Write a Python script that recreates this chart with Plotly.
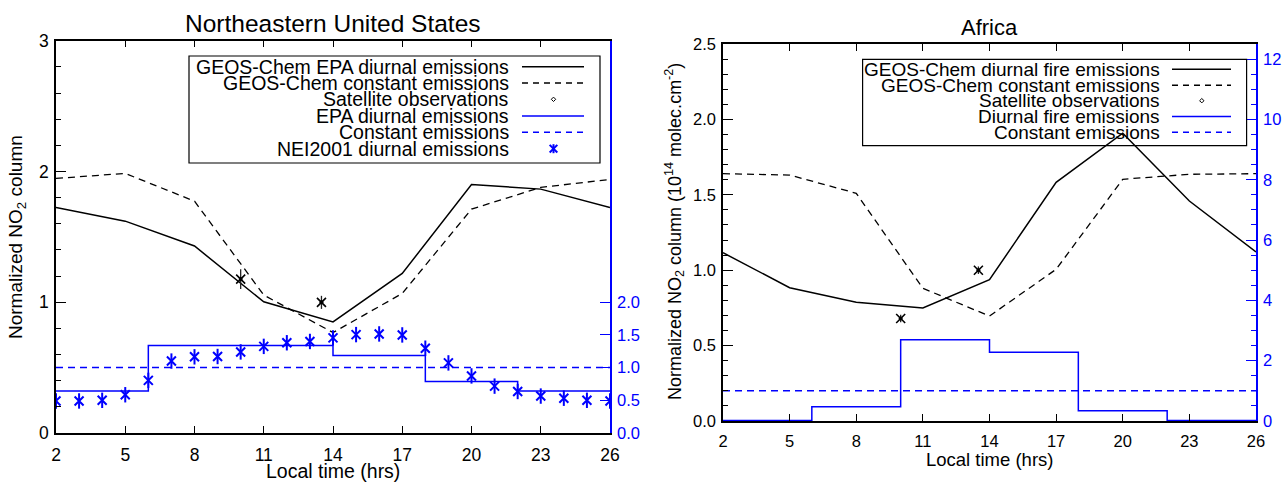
import plotly.graph_objects as go

# ---------------- data ----------------
hours3 = [2, 5, 8, 11, 14, 17, 20, 23, 26]
nei_hours = list(range(2, 27))

# Northeastern United States
ne_geos_diurnal = [1.725, 1.62, 1.43, 1.003, 0.85, 1.22, 1.90, 1.865, 1.725]
ne_geos_const = [1.947, 1.985, 1.773, 1.055, 0.768, 1.067, 1.712, 1.878, 1.939]
ne_obs_time = [10, 13.5]
ne_obs = [1.177, 0.999]
ne_obs_err = [0.076, 0.05]
ne_epa_edges = [2, 6, 14, 18, 22, 26]
ne_epa = [0.643, 1.338, 1.185, 0.787, 0.643]
ne_const = 1.0
nei = [0.49, 0.49, 0.50, 0.585, 0.805, 1.10, 1.165, 1.17, 1.24, 1.325, 1.38, 1.40,
       1.455, 1.505, 1.515, 1.50, 1.297, 1.072, 0.873, 0.717, 0.635, 0.565, 0.532,
       0.50, 0.49]

# Africa
af_geos_diurnal = [1.116, 0.884, 0.787, 0.75, 0.937, 1.583, 1.908, 1.459, 1.121]
af_geos_const = [1.64, 1.631, 1.51, 0.88, 0.696, 1.006, 1.603, 1.636, 1.64]
af_obs_time = [10, 13.5]
af_obs = [0.68, 1.0]
af_obs_err = [0.025, 0.025]
af_fire_edges = [2, 6, 10, 14, 18, 22, 26]
af_fire = [0.02, 0.47, 2.69, 2.28, 0.34, 0.02]
af_const = 1.0

x_ticks = [2, 5, 8, 11, 14, 17, 20, 23, 26]
ne_left_ticks = [0, 1, 2, 3]
ne_right_ticks = [0, 0.5, 1.0, 1.5, 2.0]
af_left_ticks = [0, 0.5, 1.0, 1.5, 2.0, 2.5]
af_right_ticks = [0, 2, 4, 6, 8, 10, 12]

ne_legend = ["GEOS-Chem EPA diurnal emissions", "GEOS-Chem constant emissions",
             "Satellite observations", "EPA diurnal emissions", "Constant emissions",
             "NEI2001 diurnal emissions"]
af_legend = ["GEOS-Chem diurnal fire emissions", "GEOS-Chem constant emissions",
             "Satellite observations", "Diurnal fire emissions", "Constant emissions"]

# ---------------- layout helpers ----------------
W, H = 1284, 482
FONT = "Liberation Sans, Arial, Helvetica, sans-serif"
BLUE = "#0000ff"


def px(x):
    return x / W


def py(y):
    return 1 - y / H


L_DOM_X = [px(56), px(610)]
L_DOM_Y = [py(433), py(40.7)]
R_DOM_X = [px(723), px(1256)]
R_DOM_Y = [py(421), py(44)]

fig = go.Figure()


def obs_traces(xs, ys, errs, xa, ya):
    fig.add_trace(go.Scatter(x=xs, y=ys, mode="markers",
                             error_y=dict(type="data", array=errs, color="#222", thickness=1.3, width=0),
                             marker=dict(symbol="x-thin-open", size=9, color="black",
                                         line=dict(color="black", width=1.6)),
                             xaxis=xa, yaxis=ya))
    fig.add_trace(go.Scatter(x=xs, y=ys, mode="markers",
                             marker=dict(symbol="circle", size=4, color="black"), xaxis=xa, yaxis=ya))


# ---------------- Left panel ----------------
fig.add_trace(go.Scatter(x=hours3, y=ne_geos_diurnal, mode="lines",
                         line=dict(color="black", width=1.5), xaxis="x", yaxis="y"))
fig.add_trace(go.Scatter(x=hours3, y=ne_geos_const, mode="lines",
                         line=dict(color="black", width=1.3, dash="7px,5px"), xaxis="x", yaxis="y"))
obs_traces(ne_obs_time, ne_obs, ne_obs_err, "x", "y")
fig.add_trace(go.Scatter(x=ne_epa_edges, y=ne_epa + [ne_epa[-1]], mode="lines", line_shape="hv",
                         line=dict(color=BLUE, width=1.5), xaxis="x", yaxis="y2"))
fig.add_trace(go.Scatter(x=[ne_epa_edges[0], ne_epa_edges[-1]], y=[ne_const, ne_const], mode="lines",
                         line=dict(color=BLUE, width=1.5, dash="7px,5px"), xaxis="x", yaxis="y2"))
fig.add_trace(go.Scatter(x=nei_hours, y=nei, mode="markers",
                         marker=dict(symbol="x-thin-open", size=9, color=BLUE,
                                     line=dict(color=BLUE, width=2)),
                         xaxis="x", yaxis="y2"))
fig.add_trace(go.Scatter(x=nei_hours, y=nei, mode="markers",
                         marker=dict(symbol="line-ns-open", size=11, color=BLUE,
                                     line=dict(color=BLUE, width=2)),
                         xaxis="x", yaxis="y2"))

# ---------------- Right panel ----------------
fig.add_trace(go.Scatter(x=hours3, y=af_geos_diurnal, mode="lines",
                         line=dict(color="black", width=1.5), xaxis="x2", yaxis="y3"))
fig.add_trace(go.Scatter(x=hours3, y=af_geos_const, mode="lines",
                         line=dict(color="black", width=1.3, dash="7px,5px"), xaxis="x2", yaxis="y3"))
obs_traces(af_obs_time, af_obs, af_obs_err, "x2", "y3")
fig.add_trace(go.Scatter(x=af_fire_edges, y=af_fire + [af_fire[-1]], mode="lines", line_shape="hv",
                         line=dict(color=BLUE, width=1.5), xaxis="x2", yaxis="y4"))
fig.add_trace(go.Scatter(x=[af_fire_edges[0], af_fire_edges[-1]], y=[af_const, af_const], mode="lines",
                         line=dict(color=BLUE, width=1.5, dash="7px,5px"), xaxis="x2", yaxis="y4"))

# ---------------- axes ----------------
xcommon = dict(range=[2, 26], tickvals=x_ticks, ticks="inside", ticklen=7, tickwidth=1.2,
               tickcolor="black", showline=True, linecolor="black", linewidth=1.5,
               mirror="ticks", showgrid=False, zeroline=False, automargin=False,
               tickfont=dict(family=FONT, size=17.5, color="black"))

fig.update_layout(
    xaxis=dict(xcommon, domain=L_DOM_X, anchor="y", ticklabelstandoff=5),
    yaxis=dict(domain=L_DOM_Y, anchor="x", range=[0, 3], tickvals=ne_left_ticks,
               ticks="inside", ticklen=10, tickwidth=1.2, tickcolor="black", automargin=False,
               showline=True, linecolor="black", linewidth=1.5, showgrid=False, zeroline=False,
               tickfont=dict(family=FONT, size=17.5, color="black"), ticklabelstandoff=2,
               minor=dict(dtick=0.2, tick0=0, ticks="inside", ticklen=5, tickcolor="black",
                          tickwidth=1.2, showgrid=False)),
    yaxis2=dict(overlaying="y", side="right", anchor="x", range=[0, 6], tickvals=ne_right_ticks,
                ticktext=["%.1f" % v for v in ne_right_ticks], automargin=False,
                ticks="inside", ticklen=10, tickwidth=1.2, tickcolor=BLUE,
                showline=True, linecolor=BLUE, linewidth=1.5, showgrid=False, zeroline=False,
                tickfont=dict(family=FONT, size=16.5, color=BLUE), ticklabelstandoff=2),
    xaxis2=dict(xcommon, domain=R_DOM_X, anchor="y3", tickfont=dict(family=FONT, size=16.5, color="black"),
                ticklabelstandoff=4),
    yaxis3=dict(domain=R_DOM_Y, anchor="x2", range=[0, 2.5], tickvals=af_left_ticks,
                ticktext=["%.1f" % v for v in af_left_ticks], automargin=False,
                ticks="inside", ticklen=10, tickwidth=1.2, tickcolor="black",
                showline=True, linecolor="black", linewidth=1.5, showgrid=False, zeroline=False,
                tickfont=dict(family=FONT, size=16.5, color="black"), ticklabelstandoff=2,
                minor=dict(dtick=0.1, tick0=0, ticks="inside", ticklen=5, tickcolor="black",
                           tickwidth=1.2, showgrid=False)),
    yaxis4=dict(overlaying="y3", side="right", anchor="x2", range=[0, 12.5], tickvals=af_right_ticks,
                ticks="inside", ticklen=10, tickwidth=1.2, tickcolor=BLUE, automargin=False,
                showline=True, linecolor=BLUE, linewidth=1.5, showgrid=False, zeroline=False,
                tickfont=dict(family=FONT, size=16.5, color=BLUE), ticklabelstandoff=2,
                minor=dict(dtick=0.5, tick0=0, ticks="inside", ticklen=5, tickcolor=BLUE,
                           tickwidth=1.2, showgrid=False)),
)

# ---------------- titles / labels ----------------
ann = []


def text(x, y, s, size, xanchor="center", angle=0, color="black"):
    ann.append(dict(x=px(x), y=py(y), xref="paper", yref="paper", text=s, showarrow=False,
                    xanchor=xanchor, yanchor="middle", textangle=angle,
                    font=dict(family=FONT, size=size, color=color)))


text(333, 23, "Northeastern United States", 24.5)
text(989.5, 27, "Africa", 22)
text(333, 471, "Local time (hrs)", 19.5)
text(989.5, 459, "Local time (hrs)", 18.5)
text(17, 237, "Normalized NO<sub>2</sub> column", 19, angle=-90)
text(674, 232, "Normalized NO<sub>2</sub> column (10<sup>14</sup> molec.cm<sup>-2</sup>)", 18, angle=-90)

shapes = []


def box(x0, y0, x1, y1):
    shapes.append(dict(type="rect", xref="paper", yref="paper", x0=px(x0), x1=px(x1),
                       y0=py(y1), y1=py(y0), line=dict(color="black", width=1.2)))


def hline(x0, x1, y, color, dash=None):
    shapes.append(dict(type="line", xref="paper", yref="paper", x0=px(x0), x1=px(x1),
                       y0=py(y), y1=py(y), line=dict(color=color, width=1.5, dash=dash)))


def diamond(xc, yc, r=2.2):
    path = "M %f %f L %f %f L %f %f L %f %f Z" % (
        px(xc), py(yc - r), px(xc + r), py(yc), px(xc), py(yc + r), px(xc - r), py(yc))
    shapes.append(dict(type="path", xref="paper", yref="paper", path=path,
                       line=dict(color="black", width=1)))


def star(xc, yc, r=4.5, color=BLUE):
    for dx, dy in [(0, r), (r * 0.85, r * 0.85), (r * 0.85, -r * 0.85)]:
        shapes.append(dict(type="line", xref="paper", yref="paper",
                           x0=px(xc - dx), x1=px(xc + dx), y0=py(yc - dy), y1=py(yc + dy),
                           line=dict(color=color, width=2)))


# left legend
box(189, 56, 600, 163)
ne_rows = [66.7, 82.9, 99.3, 115.9, 132.3, 148.7]
for label, yy in zip(ne_legend, ne_rows):
    text(511, yy, label, 19.5, xanchor="right")
hline(522, 584, ne_rows[0], "black")
hline(522, 584, ne_rows[1], "black", "6px,5px")
diamond(553.5, ne_rows[2])
hline(522, 584, ne_rows[3], BLUE)
hline(522, 584, ne_rows[4], BLUE, "6px,5px")
star(553.5, ne_rows[5])

# right legend
box(862.6, 59.3, 1246.6, 145.7)
af_rows = [69.3, 85.2, 100.7, 116.5, 132.3]
for label, yy in zip(af_legend, af_rows):
    text(1161.6, yy, label, 19, xanchor="right")
hline(1172, 1231, af_rows[0], "black")
hline(1172, 1231, af_rows[1], "black", "6px,5px")
diamond(1201.8, af_rows[2])
hline(1172, 1231, af_rows[3], BLUE)
hline(1172, 1231, af_rows[4], BLUE, "6px,5px")

fig.update_layout(annotations=ann, shapes=shapes, width=W, height=H, autosize=False,
                  margin=dict(l=0, r=0, t=0, b=0, autoexpand=False), showlegend=False,
                  paper_bgcolor="white", plot_bgcolor="white")

fig.write_html("out.html", config={"displayModeBar": False},
               post_script="document.body.style.margin='0px';document.body.style.overflow='hidden';")
